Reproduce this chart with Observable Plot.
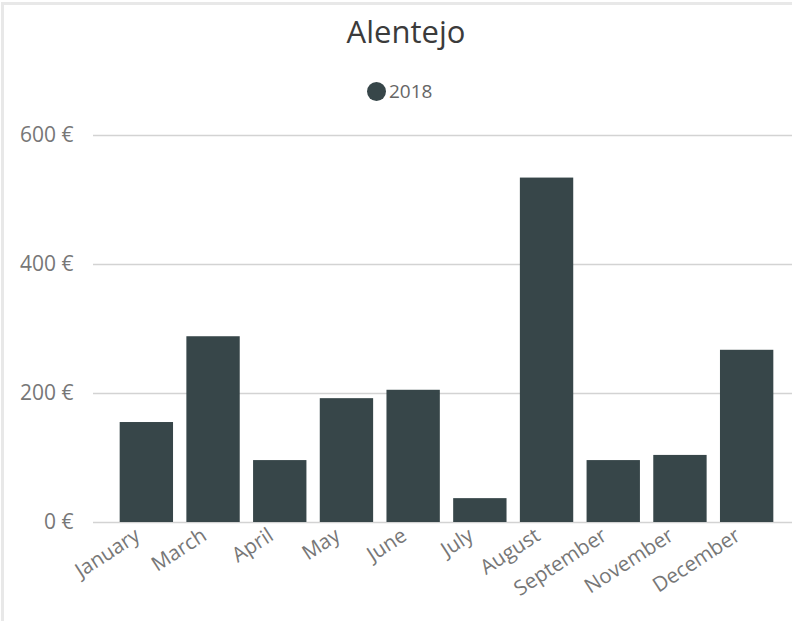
<!DOCTYPE html>
<html>
<head>
<meta charset="utf-8">
<script src="https://cdn.jsdelivr.net/npm/d3@7"></script>
<script src="https://cdn.jsdelivr.net/npm/@observablehq/plot@0.6"></script>
<style>
  html, body { margin: 0; padding: 0; background: #fff; }
  #card { position: relative; width: 792px; height: 621px; overflow: hidden; font-family: "Open Sans", sans-serif; }
  #bl { position: absolute; left: 1px; top: 2px; width: 3px; height: 619px; background: #e8e8e8; }
  #bt { position: absolute; left: 1px; top: 2px; width: 791px; height: 3px; background: #e8e8e8; }
  #title { position: absolute; left: 0; width: 812px; top: 10px; text-align: center; font-size: 31px; color: #3b3b3b; }
  #legend { position: absolute; left: 367px; top: 78px; font-size: 19px; color: #666; display: flex; align-items: center; }
  #legend span.dot { display: inline-block; width: 19px; height: 19px; border-radius: 50%; background: #374649; margin-right: 3px; }
  #chart { position: absolute; left: 0; top: 0; }
</style>
</head>
<body>
<div id="card">
  <div id="chart"></div>
  <div id="bl"></div>
  <div id="bt"></div>
  <div id="title">Alentejo</div>
  <div id="legend"><span class="dot"></span><span>2018</span></div>
</div>
<script>
const months = ["January","March","April","May","June","July","August","September","November","December"];
const values2018 = [155, 288, 96, 192, 205, 37, 534, 96, 104, 267];
const yTicks = [0, 200, 400, 600];
const seriesName = "2018";

const data = months.map((m, i) => ({month: m, value: values2018[i]}));

const chart = Plot.plot({
  width: 792,
  height: 621,
  marginTop: 135,
  marginBottom: 99,
  marginLeft: 113,
  marginRight: 12,
  style: {fontFamily: "Open Sans, sans-serif", background: "transparent"},
  x: {domain: months, padding: 0.2, paddingOuter: 0.1, round: false, label: null},
  y: {domain: [0, 600], label: null},
  marks: [
    Plot.ruleY(yTicks, {stroke: "#d3d3d3", strokeWidth: 1.5, insetLeft: -20, insetRight: -12}),
    Plot.barY(data, {x: "month", y: "value", fill: "#374649"}),
    Plot.axisY({ticks: yTicks, tickSize: 0, tickPadding: 40, tickFormat: d => d + " €", fontSize: 21, fill: "#777", label: null}),
    Plot.axisX({tickSize: 0, tickPadding: 6, tickRotate: -33, fontSize: 20.5, fill: "#777", label: null, dx: -9, dy: 5})
  ]
});
document.getElementById("chart").appendChild(chart);
</script>
</body>
</html>
